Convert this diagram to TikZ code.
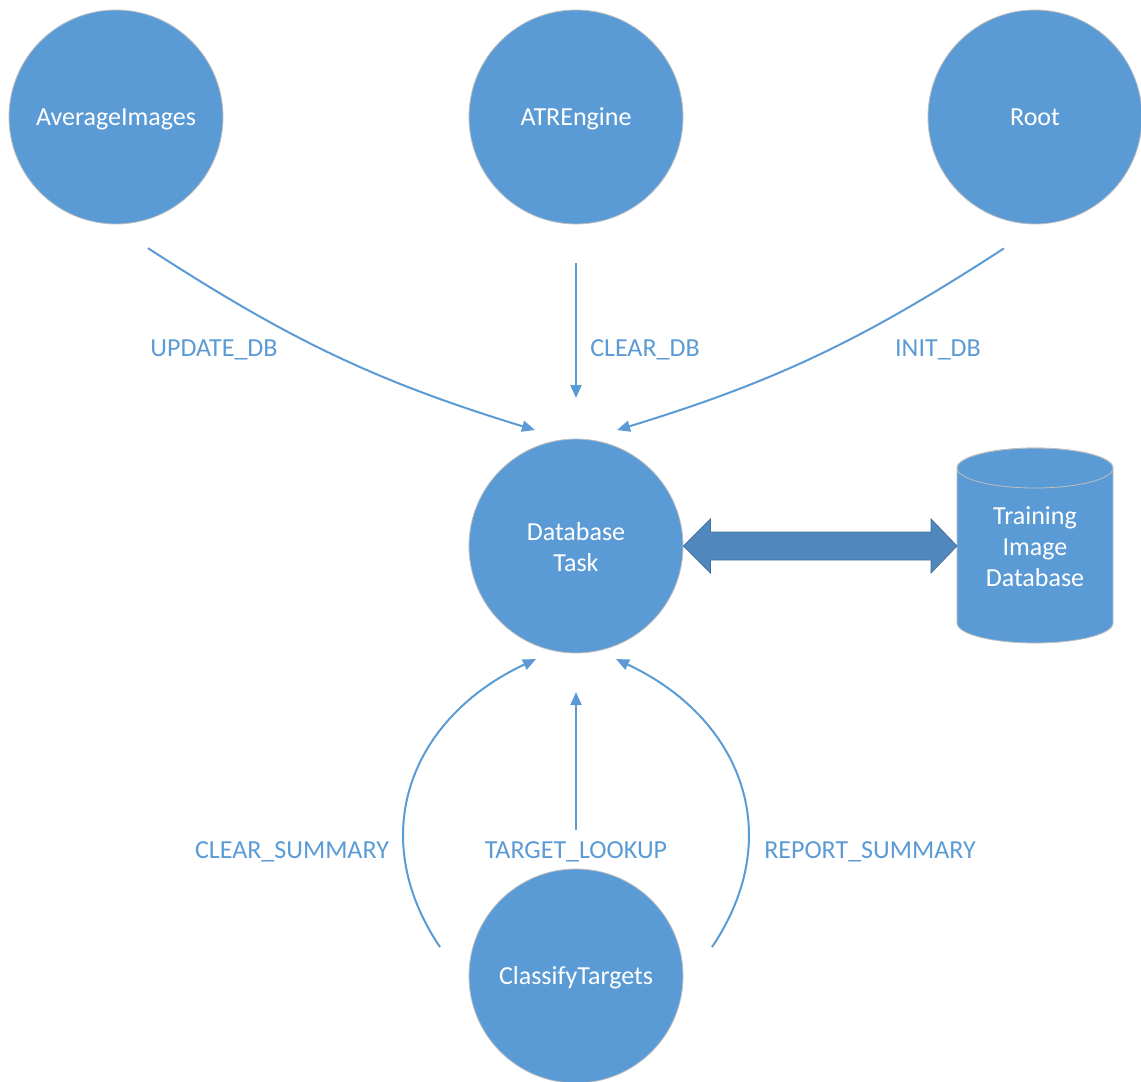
\documentclass[tikz,border=0pt]{standalone}
\usepackage{fontspec}
\setmainfont{Carlito}
\usetikzlibrary{arrows.meta,calc}
\definecolor{offblue}{RGB}{91,155,213}
\definecolor{rimgray}{RGB}{190,190,190}
\definecolor{arrowfill}{RGB}{80,135,189}
\definecolor{arrowline}{RGB}{65,113,156}
\tikzset{
  proc/.style={circle, fill=offblue, draw=rimgray, line width=0.8pt, minimum size=214pt,
    inner sep=0pt, text=white, font=\fontsize{26}{31}\selectfont, align=center,
    text height=17pt, text depth=0pt},
  flow/.style={draw=offblue, line width=2pt, -{Triangle[length=13pt,width=11pt]}},
  lbl/.style={text=offblue, font=\fontsize{26}{31}\selectfont, anchor=base, inner sep=0pt},
  dbtext/.style={text=white, font=\fontsize{26}{31}\selectfont, align=center, inner sep=0pt,
    text height=82pt, text depth=0pt},
}
\begin{document}
\begin{tikzpicture}[x=1pt,y=1pt]
\useasboundingbox (0,0) rectangle (1141,-1082);

% process circles
\node[proc] (avg)  at (116,-117)  {AverageImages};
\node[proc] (atr)  at (576,-117)  {ATREngine};
\node[proc] (root) at (1035,-117) {Root};
\node[proc, text height=51pt] (db) at (576,-546) {Database\\Task};
\node[proc] (ct)   at (576,-976)  {ClassifyTargets};

% cylinder (database store)
\coordinate (cylc) at (1035,-545.5);
\filldraw[fill=offblue, draw=rimgray, line width=0.8pt]
  ($(cylc)+(-78,77.5)$) -- ($(cylc)+(-78,-77.5)$)
  arc[start angle=180, end angle=360, x radius=78, y radius=20]
  -- ($(cylc)+(78,77.5)$)
  arc[start angle=0, end angle=180, x radius=78, y radius=20] -- cycle;
\draw[rimgray, line width=0.8pt] ($(cylc)+(0,77.5)$) ellipse[x radius=78, y radius=20];
\node[dbtext] (cyl) at (cylc) {Training\\Image\\Database};

% double arrow between task and store
\coordinate (L) at (db.east);
\coordinate (R) at ($(cylc)+(-78,-0.5)$);
\filldraw[fill=arrowfill, draw=arrowline, line width=0.8pt]
  (L) -- ($(L)+(27,27)$) -- ($(L)+(27,14)$) -- ($(R)+(-26,14)$) -- ($(R)+(-26,27)$)
  -- (R) -- ($(R)+(-26,-27)$) -- ($(R)+(-26,-14)$) -- ($(L)+(27,-14)$) -- ($(L)+(27,-27)$) -- cycle;

% connectors
\draw[flow] ($(avg)+(-76.3:135)$) to[out=-33,in=163] ($(db)+(109.5:123)$);
\draw[flow] ($(atr)+(-90:146)$) -- ($(db)+(90:148)$);
\draw[flow] ($(root)+(-103.3:135)$) to[out=-147,in=17] ($(db)+(70.5:123)$);
\draw[flow] ($(ct)+(168:139)$) to[out=124,in=-155,looseness=1.15] ($(db)+(-109.5:120)$);
\draw[flow] ($(ct)+(90:146)$) -- ($(db)+(-90:146)$);
\draw[flow] ($(ct)+(12:139)$) to[out=56,in=-25,looseness=1.15] ($(db)+(-70.5:120)$);

% labels
\node[lbl] (l1) at (214,-356) {UPDATE\_DB};
\node[lbl] (l2) at (645,-356) {CLEAR\_DB};
\node[lbl] (l3) at (938,-356) {INIT\_DB};
\node[lbl] (l4) at (292,-858) {CLEAR\_SUMMARY};
\node[lbl] (l5) at (576,-858) {TARGET\_LOOKUP};
\node[lbl] (l6) at (870,-858) {REPORT\_SUMMARY};
\end{tikzpicture}
\end{document}
